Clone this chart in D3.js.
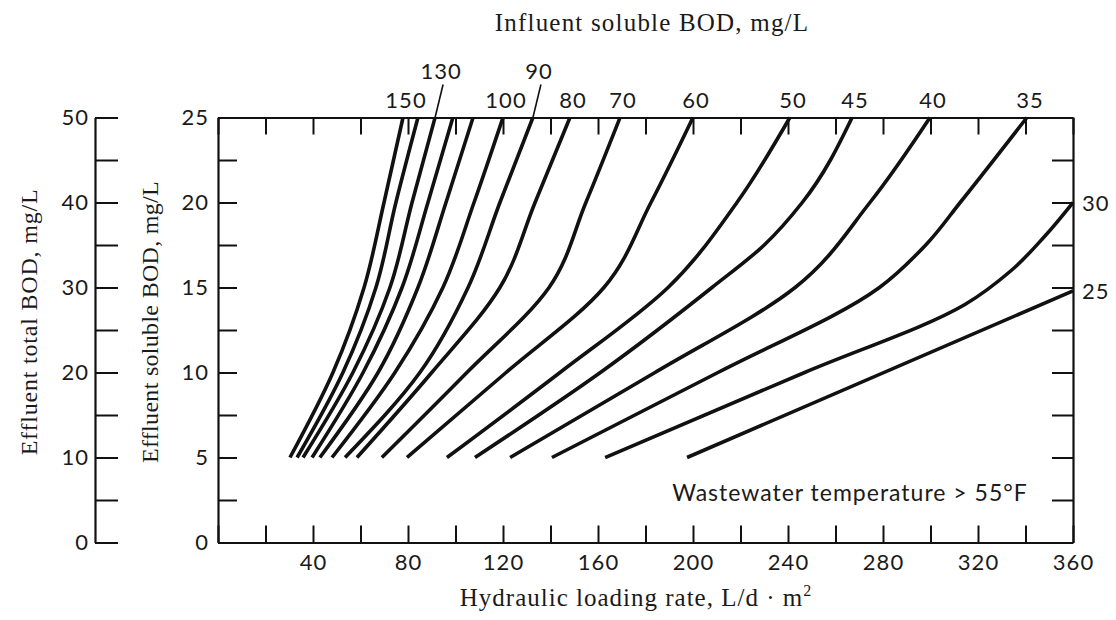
<!DOCTYPE html>
<html>
<head>
<meta charset="utf-8">
<script src="https://cdn.jsdelivr.net/npm/d3@7"></script>
<style>
  body { margin: 0; background: #fff; }
  svg text { fill: #1a1a1a; }
</style>
</head>
<body>
<svg id="chart" width="1116" height="620"></svg>
<script>
// influent soluble BOD of each curve, mg/L (empty label = curve not labelled on the chart)
const influent = [150, 140, 130, 120, 110, 100, 90, 80, 70, 60, 50, 45, 40, 35, 30, 25]
const curveLabels = ["150", "", "130", "", "", "100", "90", "80", "70", "60", "50", "45", "40", "35", "30", "25"]

// [hydraulic loading L/d·m2, effluent soluble BOD mg/L]
const c150 = [[30.3, 5], [48.4, 10], [61.5, 15], [69.9, 20], [77.9, 25]]
const c140 = [[33.3, 5], [52.6, 10], [66.5, 15], [74.9, 20], [84.2, 25]]
const c130 = [[35.8, 5], [56.8, 10], [72.4, 15], [81.7, 20], [91.4, 25]]
const c120 = [[39.6, 5], [61.1, 10], [77.5, 15], [88.4, 20], [98.9, 25]]
const c110 = [[42.9, 5], [67.4, 10], [84.2, 15], [96, 20], [107.4, 25]]
const c100 = [[48, 5], [74.5, 10], [94.7, 15], [107.8, 20], [120, 25]]
const c90 = [[53.5, 5], [85, 10], [105.3, 15], [118.7, 20], [132.6, 25]]
const c80 = [[58.5, 5], [90, 10], [118.7, 15], [133.5, 20], [148.2, 25]]
const c70 = [[69, 5], [104.8, 10], [139.4, 15], [154.9, 20], [169.3, 25]]
const c60 = [[79.6, 5], [121.3, 10], [162.5, 15], [182.3, 20], [200, 25]]
const c50 = [[96.4, 5], [144, 10], [189.5, 15], [218.5, 20], [240.8, 25]]
const c45 = [[108.2, 5], [161, 10], [208, 15], [230, 17.5], [246, 20], [267, 25]]
const c40 = [[123, 5], [184, 10], [243, 15], [274.5, 20], [299.8, 25]]
const c35 = [[140.6, 5], [210.5, 10], [278.5, 15], [298, 17.5], [312.5, 20], [340.6, 25]]
const c30 = [[163, 5], [247, 10], [314.5, 14], [334, 16], [348, 18], [360, 20]]
const c25 = [[197.5, 5], [360, 14.8]]
const curves = [c150, c140, c130, c120, c110, c100, c90, c80, c70, c60, c50, c45, c40, c35, c30, c25]

// axis ticks
const loadTicks = d3.range(0, 361, 20)
const loadLabels = [40, 80, 120, 160, 200, 240, 280, 320, 360]
const solubleTicks = d3.range(0, 25.1, 2.5)
const totalTicks = d3.range(0, 51, 5)

const svg = d3.select("#chart")
const plotL = 218, plotR = 1073, plotT = 117.5, plotB = 542.5
const numFont = "Lato, 'Open Sans', sans-serif"
const serif = "'Liberation Serif', 'DejaVu Serif', serif"
const numSize = 22

const x = d3.scaleLinear().domain([0, 360]).range([plotL, plotR])
const y = d3.scaleLinear().domain([0, 25]).range([plotB, plotT])
const yTotal = d3.scaleLinear().domain([0, 50]).range([plotB, plotT])

function styleAxis(g) {
    g.attr("font-family", numFont).attr("font-size", numSize)
    g.selectAll("path.domain").attr("stroke", "#111").attr("stroke-width", 2.2)
    g.selectAll(".tick line").attr("stroke", "#111").attr("stroke-width", 2)
    g.selectAll(".tick text").attr("fill", "#1a1a1a").attr("letter-spacing", 1)
}

// bottom axis, ticks pointing up
svg.append("g")
    .attr("transform", `translate(0,${plotB})`)
    .call(d3.axisBottom(x).tickValues(loadTicks).tickSize(-17).tickSizeOuter(0).tickPadding(12)
        .tickFormat(d => loadLabels.includes(d) ? d : ""))
    .call(styleAxis)

// top axis, ticks pointing down
svg.append("g")
    .attr("transform", `translate(0,${plotT})`)
    .call(d3.axisTop(x).tickValues(loadTicks).tickSize(-17).tickSizeOuter(0).tickFormat(""))
    .call(styleAxis)

// soluble BOD axis (frame left edge)
svg.append("g")
    .attr("transform", `translate(${plotL},0)`)
    .call(d3.axisLeft(y).tickValues(solubleTicks).tickSize(-19).tickSizeOuter(0).tickPadding(9)
        .tickFormat(d => d % 5 === 0 ? d : ""))
    .call(styleAxis)

// right frame edge
svg.append("g")
    .attr("transform", `translate(${plotR},0)`)
    .call(d3.axisRight(y).tickValues(solubleTicks).tickSize(-21).tickSizeOuter(0).tickFormat(""))
    .call(styleAxis)

// total BOD axis
svg.append("g")
    .attr("transform", "translate(95,0)")
    .call(d3.axisLeft(yTotal).tickValues(totalTicks).tickSize(-23).tickSizeOuter(0).tickPadding(6)
        .tickFormat(d => d % 10 === 0 ? d : ""))
    .call(styleAxis)

// curves
const line = d3.line()
    .x(d => x(d[0]))
    .y(d => y(d[1]))
    .curve(d3.curveMonotoneY)

svg.append("g")
    .selectAll("path")
    .data(curves)
    .join("path")
    .attr("d", line)
    .attr("fill", "none")
    .attr("stroke", "#111")
    .attr("stroke-width", 3.6)

// curve labels
const raised = new Set([130, 90])
function numText(px, py, label, anchor) {
    return svg.append("text")
        .attr("x", px).attr("y", py)
        .attr("text-anchor", anchor)
        .attr("font-family", numFont).attr("font-size", numSize)
        .attr("letter-spacing", 1)
        .text(label)
}
curves.forEach((c, i) => {
    const label = curveLabels[i]
    if (!label) return
    const end = c[c.length - 1]
    if (end[1] < 25) {
        // ends on the right edge
        numText(plotR + 9, y(end[1]) + 8, label, "start")
        return
    }
    const ex = x(end[0])
    if (raised.has(influent[i])) {
        svg.append("line")
            .attr("x1", ex).attr("y1", plotT)
            .attr("x2", ex + 8).attr("y2", plotT - 33)
            .attr("stroke", "#111").attr("stroke-width", 1.6)
        numText(ex + 6, plotT - 39, label, "middle")
    } else {
        numText(ex + 3, plotT - 10, label, "middle")
    }
})

// titles
function title(label) {
    return svg.append("text")
        .attr("text-anchor", "middle")
        .attr("font-family", serif).attr("font-size", 25)
        .attr("letter-spacing", 1.2)
        .text(label)
}
title("Influent soluble BOD, mg/L").attr("x", 652).attr("y", 31)

title("Hydraulic loading rate, L/d \u00b7 m").attr("x", 636).attr("y", 606)
    .attr("letter-spacing", 1)
    .append("tspan").attr("dy", -10).attr("font-size", 16).text("2")

title("Effluent total BOD, mg/L").attr("transform", "translate(37,322) rotate(-90)")
    .attr("font-size", 24).attr("letter-spacing", 0.8)
title("Effluent soluble BOD, mg/L").attr("transform", "translate(158,322) rotate(-90)")
    .attr("font-size", 24).attr("letter-spacing", 0.3)

svg.append("text")
    .attr("x", 850).attr("y", 501)
    .attr("text-anchor", "middle")
    .attr("font-family", numFont).attr("font-size", 23)
    .attr("letter-spacing", 1)
    .text("Wastewater temperature > 55\u00b0F")
</script>
</body>
</html>
